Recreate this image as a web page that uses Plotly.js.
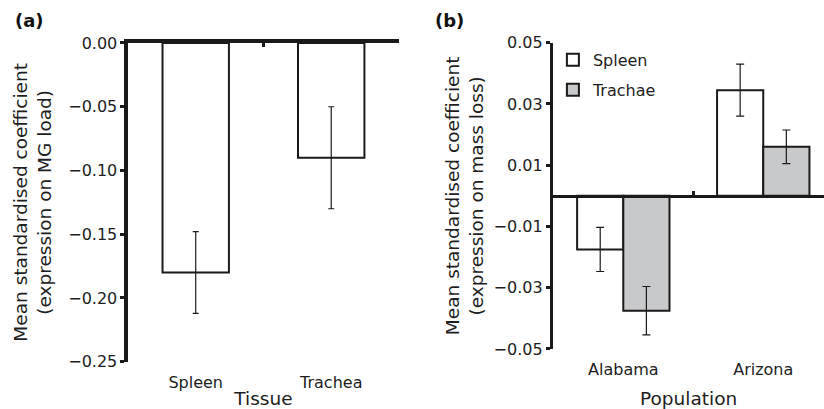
<!DOCTYPE html>
<html>
<head>
<meta charset="utf-8">
<script src="https://cdn.plot.ly/plotly-3.0.1.min.js"></script>
<style>html,body{margin:0;padding:0;overflow:hidden;background:#fff}#chart{width:824px;height:409px}</style>
</head>
<body>
<div id="chart"></div>
<script>
// Panel (a)
const tissues = ["Spleen", "Trachea"];
const tissueMeans = [-0.18, -0.09];
const tissueErrors = [0.032, 0.04];
const aTickVals = [0, -0.05, -0.10, -0.15, -0.20, -0.25];
const aTickText = ["0.00", "\u22120.05", "\u22120.10", "\u22120.15", "\u22120.20", "\u22120.25"];

// Panel (b)
const populations = ["Alabama", "Arizona"];
const spleenMeans = [-0.0175, 0.0345];
const spleenErrors = [0.0072, 0.0085];
const tracheaeMeans = [-0.0375, 0.016];
const tracheaeErrors = [0.0079, 0.0055];
const bTickVals = [0.05, 0.03, 0.01, -0.01, -0.03, -0.05];
const bTickText = ["0.05", "0.03", "0.01", "\u22120.01", "\u22120.03", "\u22120.05"];

const FONT = "DejaVu Sans, Arial, sans-serif";
const TXT = "#1e1e1e";

const traces = [
  {
    type: "bar", x: tissues, y: tissueMeans, xaxis: "x", yaxis: "y",
    width: 0.49, showlegend: false,
    marker: {color: "#ffffff", line: {color: "#1a1a1a", width: 2}},
    error_y: {type: "data", array: tissueErrors, visible: true, color: "#1a1a1a", thickness: 1.2, width: 3}
  },
  {
    type: "bar", name: "Spleen", x: populations, y: spleenMeans, xaxis: "x3", yaxis: "y2",
    legendgroup: "s",
    marker: {color: "#ffffff", line: {color: "#1a1a1a", width: 2}},
    error_y: {type: "data", array: spleenErrors, visible: true, color: "#1a1a1a", thickness: 1.2, width: 4}
  },
  {
    type: "bar", name: "Trachae", x: populations, y: tracheaeMeans, xaxis: "x3", yaxis: "y2",
    legendgroup: "t",
    marker: {color: "#c8c9cb", line: {color: "#1a1a1a", width: 2}},
    error_y: {type: "data", array: tracheaeErrors, visible: true, color: "#1a1a1a", thickness: 1.2, width: 4}
  },
  // empty helper traces so the overlaid baseline axes get drawn
  {type: "scatter", x: [], y: [], xaxis: "x2", yaxis: "y", showlegend: false, hoverinfo: "skip"},
  {type: "scatter", x: [], y: [], xaxis: "x4", yaxis: "y2", showlegend: false, hoverinfo: "skip"}
];

const tickFont = {family: FONT, size: 16, color: TXT};
const titleFont = {family: FONT, size: 18.5, color: TXT};

const layout = {
  width: 824, height: 409,
  margin: {l: 0, r: 0, t: 0, b: 0},
  paper_bgcolor: "#ffffff", plot_bgcolor: "rgba(0,0,0,0)",
  font: {family: FONT, color: TXT},
  barmode: "group", bargap: 0.34, bargroupgap: 0,
  showlegend: true,
  legend: {x: 0.671, y: 0.895, xanchor: "left", yanchor: "top", tracegroupgap: 6,
           font: {family: FONT, size: 16, color: TXT}, bgcolor: "rgba(0,0,0,0)"},
  // Panel (a)
  xaxis: {
    domain: [0.1553, 0.4842], anchor: "y", type: "category", range: [-0.5, 1.5],
    showline: false, showgrid: false, zeroline: false,
    ticks: "outside", ticklen: 6, tickcolor: "rgba(0,0,0,0)", tickfont: tickFont,
    title: {text: "Tissue", font: titleFont, standoff: 5}
  },
  xaxis2: {
    overlaying: "x", anchor: "y", side: "top", type: "linear", range: [-0.5, 1.5],
    showline: true, linecolor: "#1a1a1a", linewidth: 3.5, showgrid: false, zeroline: false,
    ticks: "inside", ticklen: 4, tickwidth: 2.5, tickcolor: "#1a1a1a",
    tickmode: "array", tickvals: [0.5, 1.5], showticklabels: false
  },
  yaxis: {
    domain: [0.1156, 0.8949], anchor: "x", range: [-0.25, 0],
    tickmode: "array", tickvals: aTickVals, ticktext: aTickText,
    showline: true, linecolor: "#1a1a1a", linewidth: 3.5,
    showgrid: false, zeroline: false,
    ticks: "outside", ticklen: 4, tickwidth: 3, tickcolor: "#1a1a1a", tickfont: tickFont,
    title: {text: "Mean standardised coefficient<br>(expression on MG load)", font: titleFont, standoff: 12}
  },
  // Panel (b)
  xaxis3: {
    domain: [0.6715, 1], anchor: "y2", type: "category", range: [-0.5, 1.434],
    showline: false, showgrid: false, zeroline: false,
    ticks: "outside", ticklen: 6, tickcolor: "rgba(0,0,0,0)", tickfont: tickFont,
    title: {text: "Population", font: titleFont, standoff: 14}
  },
  xaxis4: {
    overlaying: "x3", anchor: "free", position: 0.5211, side: "bottom", type: "linear", range: [-0.5, 1.434],
    showline: true, linecolor: "#1a1a1a", linewidth: 3.5, showgrid: false, zeroline: false,
    ticks: "inside", ticklen: 4, tickwidth: 2.5, tickcolor: "#1a1a1a",
    tickmode: "array", tickvals: [0.5], showticklabels: false
  },
  yaxis2: {
    domain: [0.1467, 0.8956], anchor: "x3", range: [-0.05, 0.05],
    tickmode: "array", tickvals: bTickVals, ticktext: bTickText,
    showline: true, linecolor: "#1a1a1a", linewidth: 3.5,
    showgrid: false, zeroline: false,
    ticks: "outside", ticklen: 4, tickwidth: 3, tickcolor: "#1a1a1a", tickfont: tickFont,
    title: {text: "Mean standardised coefficient<br>(expression on mass loss)", font: titleFont, standoff: 6}
  },
  annotations: [
    {text: "<b>(a)</b>", xref: "paper", yref: "paper", x: 13 / 824, y: 1 - 20 / 409,
     xanchor: "left", yanchor: "middle", showarrow: false, font: {family: FONT, size: 18, color: "#111"}},
    {text: "<b>(b)</b>", xref: "paper", yref: "paper", x: 433 / 824, y: 1 - 20 / 409,
     xanchor: "left", yanchor: "middle", showarrow: false, font: {family: FONT, size: 18, color: "#111"}}
  ]
};

Plotly.newPlot("chart", traces, layout, {displayModeBar: false, staticPlot: true});
</script>
</body>
</html>
